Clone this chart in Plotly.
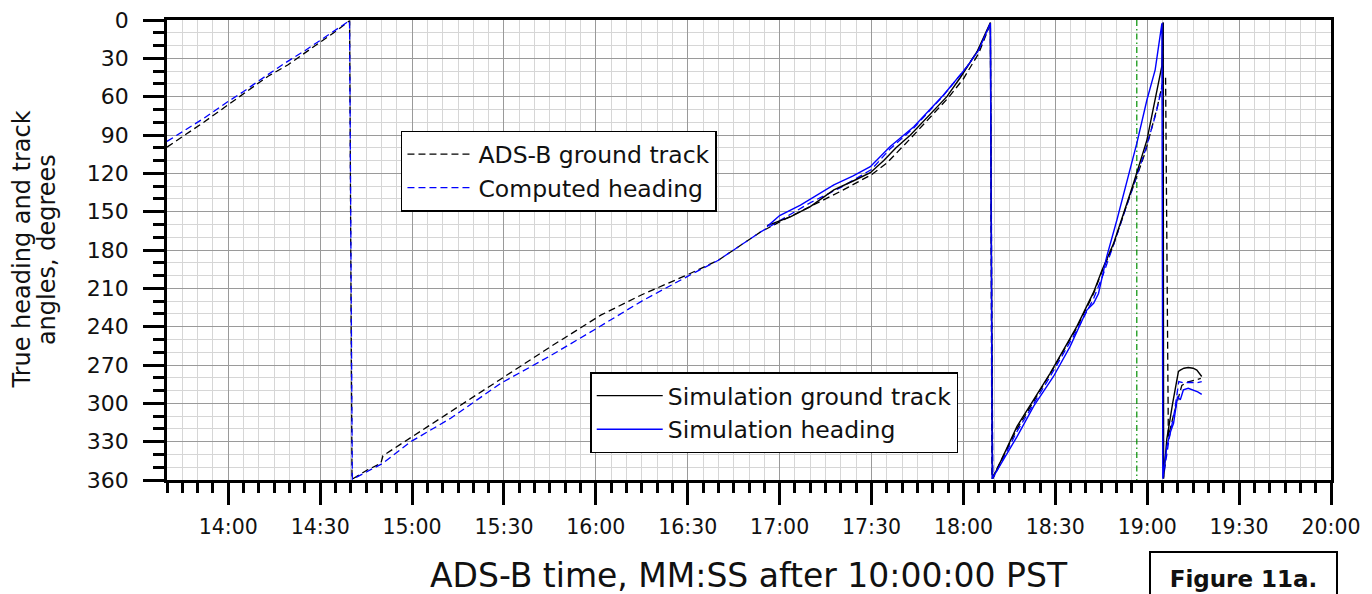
import plotly.graph_objects as go

# Time axis in seconds after 10:00:00 PST (e.g. 14:00 -> 840 s); headings in degrees.
adsb_t = [820, 826, 832, 837.6, 843, 848, 853, 859.4, 865, 870, 875, 879.6,
          880.4, 885.5, 889.8, 890.5, 900.7, 912.6, 929, 945, 961.6, 975, 989.8,
          1000, 1013.7, 1020, 1030, 1040, 1050, 1055, 1063, 1070, 1075, 1080, 1085, 1088.8,
          1089.3, 1097.5, 1108.3, 1117, 1122.5, 1125.2, 1129, 1133.3, 1139.3, 1143.1, 1145.3, 1146.0,
          1146.9, 1148.5, 1151.3, 1153, 1155, 1157.5]
adsb_track = [99.5, 90, 80, 70.4, 61, 53, 44, 35.2, 26, 17.5, 9, 0.5,
              359.5, 352, 347, 341, 325, 306.5, 280.4, 256, 231, 215, 199.5,
              188, 166, 158, 146, 134, 121, 112, 92, 74, 61, 46, 26, 3,
              359, 320, 277, 241, 214, 197, 176, 145, 104, 70, 47, 45,
              326, 310, 286, 283.5, 282, 280.5]

computed_t = [820, 826, 832, 839.8, 845, 850, 858.3, 865, 872, 879.6,
              880.5, 885, 890.4, 899.6, 912.6, 929, 945, 959.4, 975, 989.8,
              1000, 1013.7, 1020, 1030, 1040, 1050, 1056, 1064, 1073.5, 1081, 1085, 1088.8,
              1089.6, 1097.5, 1108.3, 1117, 1122.5, 1125.5, 1129, 1133, 1139.5, 1143, 1145.0, 1145.2,
              1145.3, 1147, 1149, 1150.3, 1152, 1154, 1156, 1157.8]
computed_heading = [95, 86, 77, 64, 56, 47.5, 34, 24, 12.5, 0.5,
                    359.5, 354, 347, 330, 311.7, 284.3, 263, 242.6, 220, 200.8,
                    188, 166, 157, 143, 131, 117, 101, 84, 59, 37, 23, 3,
                    359, 322, 279, 243, 218, 200, 176, 148, 101, 72, 50, 2,
                    358, 330, 305, 283, 284, 283.5, 284, 283]

sim_t = [1015.9, 1023.5, 1030, 1037.7, 1044, 1049.6, 1054, 1058, 1062.7, 1068, 1074.6, 1079,
         1084.4, 1088.8,
         1089.5, 1097.5, 1108.3, 1117, 1122.5, 1125.2, 1129, 1133.3, 1135.5, 1139.9, 1143.1,
         1144.8, 1145.0, 1145.2,
         1145.35, 1146.4, 1148.3, 1150.2, 1150.8, 1152, 1153.4, 1155, 1156.2, 1157.8]
sim_track = [161, 154, 146, 133, 126, 119.5, 110, 100, 90, 77, 60, 45,
             25, 2,
             359, 318, 276.5, 240, 213, 196, 175, 144, 128, 94, 57,
             36, 20, 2,
             359, 328, 300, 275, 274, 272.5, 272, 272.5, 274, 279]

simh_t = [1015.9, 1020, 1026.8, 1032, 1037.7, 1044, 1049.6, 1052, 1056.1, 1063.8, 1068, 1073.5,
          1081.2, 1085, 1088.8,
          1089.4, 1097.5, 1103, 1109.4, 1114.8, 1120.3, 1122.5, 1124.1, 1126.8, 1130.1, 1132.8,
          1136.6, 1139.9, 1142.6, 1144.8,
          1145.1, 1146.4, 1147.5, 1148.6, 1149.9, 1150.8, 1151.8, 1153.4, 1155.1, 1156.5, 1157.8]
sim_heading = [161.7, 153, 144.8, 137, 129, 122, 114.8, 109, 99, 83.5, 73, 58.7,
               36.5, 23.5, 2.6,
               359, 326, 302, 279, 255.6, 227, 221.7, 214, 185, 156.5, 132,
               96.5, 62.6, 39, 2.6,
               359, 334, 323, 315.6, 294.7, 297.3, 289.5, 288.2, 289.5, 291, 293]

marker_time = 1136.6  # green reference line, 18:56.6

x_tick_seconds = [840, 870, 900, 930, 960, 990, 1020, 1050, 1080, 1110, 1140, 1170, 1200]
x_tick_labels = ["14:00", "14:30", "15:00", "15:30", "16:00", "16:30", "17:00",
                 "17:30", "18:00", "18:30", "19:00", "19:30", "20:00"]
y_tick_values = [0, 30, 60, 90, 120, 150, 180, 210, 240, 270, 300, 330, 360]
y_tick_labels = [str(v) for v in y_tick_values]

FONT = "DejaVu Sans"
INK = "#111"

fig = go.Figure()

fig.add_trace(go.Scatter(
    x=[marker_time, marker_time], y=[0, 360], mode="lines", showlegend=False,
    line=dict(color="#009000", width=1.2, dash="6px,3px,1.5px,3px"), hoverinfo="skip"))

fig.add_trace(go.Scatter(
    x=adsb_t, y=adsb_track, mode="lines", name="ADS-B ground track", legend="legend",
    line=dict(color="black", width=1.3, dash="7px,4px")))
fig.add_trace(go.Scatter(
    x=computed_t, y=computed_heading, mode="lines", name="Computed heading", legend="legend",
    line=dict(color="#0000ff", width=1.3, dash="7px,4px")))
fig.add_trace(go.Scatter(
    x=sim_t, y=sim_track, mode="lines", name="Simulation ground track", legend="legend2",
    line=dict(color="black", width=1.4)))
fig.add_trace(go.Scatter(
    x=simh_t, y=sim_heading, mode="lines", name="Simulation heading", legend="legend2",
    line=dict(color="#0000ff", width=1.4)))

legend_style = dict(
    bgcolor="white", bordercolor="black", borderwidth=1.5,
    font=dict(family=FONT, size=23.5, color=INK),
    itemwidth=66, tracegroupgap=0, xanchor="left", yanchor="top",
    xref="paper", yref="paper",
)

fig.update_layout(
    width=1372, height=594,
    margin=dict(l=167, r=41, t=20, b=114, autoexpand=False),
    paper_bgcolor="white", plot_bgcolor="white",
    font=dict(family=FONT, color=INK),
    legend=dict(x=0.201, y=0.759, **legend_style),
    legend2=dict(x=0.3636, y=0.234, **legend_style),
    xaxis=dict(
        range=[820, 1200], tickmode="array", tickvals=x_tick_seconds, ticktext=x_tick_labels,
        automargin=False,
        ticks="outside", ticklen=22, tickwidth=2.5, tickcolor="black",
        tickfont=dict(family=FONT, size=20.5, color=INK), ticklabelstandoff=5,
        showline=True, linecolor="black", linewidth=2.5, mirror=True,
        showgrid=True, gridcolor="#9a9a9a", gridwidth=1.3, zeroline=False,
        minor=dict(tick0=820, dtick=5, ticks="outside", ticklen=10, tickwidth=2.5,
                   tickcolor="black", showgrid=True, gridcolor="#d6d6d6", gridwidth=1.3),
    ),
    yaxis=dict(
        range=[360, 0], tickmode="array", tickvals=y_tick_values, ticktext=y_tick_labels,
        automargin=False,
        ticks="outside", ticklen=21, tickwidth=2.5, tickcolor="black",
        tickfont=dict(family=FONT, size=22, color=INK), ticklabelstandoff=10,
        showline=True, linecolor="black", linewidth=2.5, mirror=True,
        showgrid=True, gridcolor="#9a9a9a", gridwidth=1.3, zeroline=False,
        minor=dict(tick0=0, dtick=10, ticks="outside", ticklen=11, tickwidth=2.5,
                   tickcolor="black", showgrid=True, gridcolor="#d6d6d6", gridwidth=1.3),
    ),
    annotations=[
        dict(text="ADS-B time, MM:SS after 10:00:00 PST", xref="paper", yref="paper",
             x=0.5, y=-0.208, xanchor="center", yanchor="middle", showarrow=False,
             font=dict(family=FONT, size=33, color=INK)),
        dict(text="True heading and track", xref="paper", yref="paper",
             x=-0.125, y=0.5, xanchor="center", yanchor="middle", textangle=-90,
             showarrow=False, font=dict(family=FONT, size=24, color=INK)),
        dict(text="angles, degrees", xref="paper", yref="paper",
             x=-0.103, y=0.5, xanchor="center", yanchor="middle", textangle=-90,
             showarrow=False, font=dict(family=FONT, size=24, color=INK)),
        dict(text="<b>Figure 11a.</b>", xref="paper", yref="paper",
             x=0.8437, y=-0.1543, xanchor="left", yanchor="top", showarrow=False,
             width=185, height=52, borderwidth=2, borderpad=0, bordercolor="black",
             bgcolor="white", font=dict(family=FONT, size=23, color=INK)),
    ],
)

fig.write_html("out.html")
